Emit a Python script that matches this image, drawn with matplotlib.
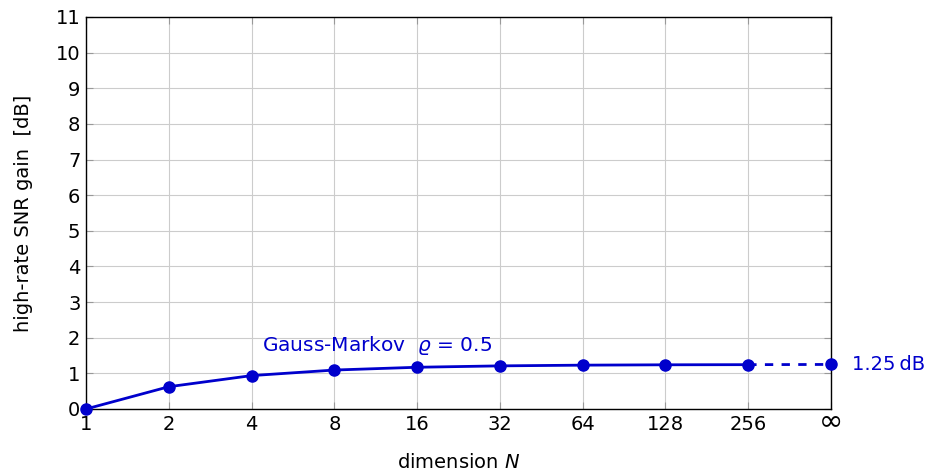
import numpy as np
import matplotlib
matplotlib.use("Agg")
import matplotlib.pyplot as plt

plt.rcParams["font.family"] = "DejaVu Sans"
plt.rcParams["mathtext.fontset"] = "custom"
plt.rcParams["mathtext.rm"] = "DejaVu Sans"
plt.rcParams["mathtext.it"] = "DejaVu Sans:italic"
plt.rcParams["mathtext.sf"] = "DejaVu Sans"

# dimension N (position index on equally spaced axis) and gain in dB
dim_labels = ["1", "2", "4", "8", "16", "32", "64", "128", "256", "\u221e"]
gain_db = [0.0, 0.625, 0.937, 1.093, 1.171, 1.210, 1.230, 1.240, 1.244]
gain_inf = 1.25
blue = "#0000cc"

pos = np.arange(len(dim_labels))

fig = plt.figure(figsize=(9.31, 4.72), dpi=100)
ax = fig.add_axes([0.0924, 0.1335, 0.8002, 0.8305])

ax.plot(pos[:len(gain_db)], gain_db, color=blue, lw=2, marker="o", ms=8, zorder=3, clip_on=False)
ax.plot([pos[len(gain_db) - 1], pos[-1]], [gain_db[-1], gain_inf], color=blue, lw=2,
        ls=(0, (3, 3)), zorder=3, clip_on=False)
ax.plot([pos[-1]], [gain_inf], color=blue, marker="o", ms=8, zorder=4, clip_on=False)

ax.text(pos[-1] + 0.25, gain_inf, "1.25\u2009dB", color=blue, fontsize=14, va="center", ha="left")
ax.text(2.12, 1.45, r"Gauss-Markov  $\varrho$ = 0.5", color=blue, fontsize=14.5, va="bottom", ha="left")

ax.set_xlim(0, pos[-1])
ax.set_ylim(0, 11)
ax.set_xticks(pos)
ax.set_xticklabels(dim_labels[:-1] + [""])
ax.set_yticks(range(0, 12))
ax.grid(True, color="#cccccc", lw=0.8)
ax.set_axisbelow(True)
ax.tick_params(direction="in", length=5, color="#999999", labelsize=14, pad=4,
               top=True, right=True)
# larger infinity sign for the last tick
ax.annotate(dim_labels[-1], xy=(pos[-1], 0), xycoords=("data", "axes fraction"),
            xytext=(0, -8.5), textcoords="offset points", ha="center", va="center", fontsize=21)
for s in ax.spines.values():
    s.set_linewidth(1)

ax.set_xlabel(r"dimension $N$", fontsize=14, labelpad=14)
ax.set_ylabel("high-rate SNR gain  [dB]", fontsize=14, labelpad=16)

fig.savefig("out.png", dpi=100)
